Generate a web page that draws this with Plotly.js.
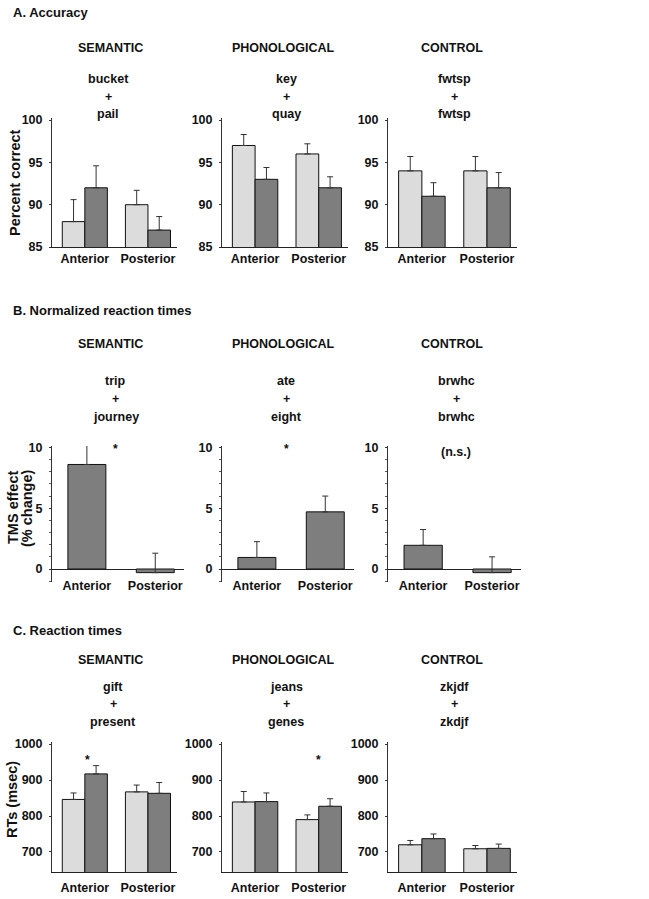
<!DOCTYPE html>
<html>
<head>
<meta charset="utf-8">
<script src="https://cdn.plot.ly/plotly-3.0.1.min.js"></script>
<style>html,body{margin:0;padding:0;background:#fff;}#chart{width:649px;height:899px;}</style>
</head>
<body>
<div id="chart"></div>
<script>
// ---------- data ----------
const regions = ['Anterior', 'Posterior'];
const columns = ['SEMANTIC', 'PHONOLOGICAL', 'CONTROL'];
const sectionTitles = ['A. Accuracy', 'B. Normalized reaction times', 'C. Reaction times'];

const accWords = [['bucket', '+', 'pail'], ['key', '+', 'quay'], ['fwtsp', '+', 'fwtsp']];
const accLight = [[88, 90], [97, 96], [94, 94]];
const accLightErr = [[2.6, 1.7], [1.3, 1.2], [1.7, 1.7]];
const accDark = [[92, 87], [93, 92], [91, 92]];
const accDarkErr = [[2.6, 1.6], [1.4, 1.3], [1.6, 1.8]];

const tmsWords = [['trip', '+', 'journey'], ['ate', '+', 'eight'], ['brwhc', '+', 'brwhc']];
const tmsVal = [[8.6, -0.3], [0.95, 4.7], [1.95, -0.3]];
const tmsErr = [[1.6, 1.6], [1.3, 1.3], [1.3, 1.3]];
const tmsMarks = ['*', '*', '(n.s.)'];

const rtWords = [['gift', '+', 'present'], ['jeans', '+', 'genes'], ['zkjdf', '+', 'zkdjf']];
const rtLight = [[846, 867], [839, 790], [720, 709]];
const rtLightErr = [[18, 19], [29, 13], [12, 9]];
const rtDark = [[917, 863], [840, 827], [737, 710]];
const rtDarkErr = [[23, 30], [24, 21], [13, 12]];
const rtStarRegion = ['Anterior', 'Posterior', null];

const yTitles = [['Percent correct'], ['TMS effect', '(% change)'], ['RTs (msec)']];

// ---------- layout geometry (pixels) ----------
const W = 649, H = 899;
const PX = x => x / W;
const PY = y => 1 - y / H;
const rowPx = [[118, 247], [446, 582], [742, 872]];
const colPxAC = [[52, 177], [222, 348], [388, 517]];
const colPxB = [[52, 184], [222, 354], [388, 521]];
const yRanges = [[85, 100.25], [-1.07, 10.12], [644.4, 1005.6]];
const xRangeAC = [-0.52, 1.46];
const xRangeB = [-0.51, 1.42];

const LIGHT = '#dcdcdc', DARK = '#7e7e7e', EDGE = '#111', ERR = '#333';
const FONT = 'Liberation Sans, Arial, sans-serif';
const TXT = '#111';

const traces = [];
const layout = {
  width: W, height: H,
  margin: {l: 0, r: 0, t: 0, b: 0},
  paper_bgcolor: '#fff', plot_bgcolor: 'rgba(0,0,0,0)',
  showlegend: false,
  font: {family: FONT, size: 12.5, color: TXT, weight: 'bold'},
  annotations: []
};

function errObj(arr) {
  return {type: 'data', symmetric: false, array: arr, arrayminus: arr.map(() => 0),
          color: ERR, thickness: 1, width: 3};
}

function addText(text, x, y, opts) {
  layout.annotations.push(Object.assign({
    text: text, x: PX(x), y: PY(y), xref: 'paper', yref: 'paper',
    showarrow: false, xanchor: 'center', yanchor: 'middle',
    font: {family: FONT, size: 12.5, color: TXT, weight: 'bold'}
  }, opts || {}));
}

const headY = [48, 344, 660];
const headX = [110, 283, 452];
const wordX = [[108, 286, 454], [116, 286, 456], [113, 286, 454]];
const wordY = [[79, 97, 114], [381, 399, 417], [687, 704, 722]];
const secY = [13, 311, 630];
const allWords = [accWords, tmsWords, rtWords];

for (let r = 0; r < 3; r++) {
  addText(sectionTitles[r], 11, secY[r], {xanchor: 'left', font: {family: FONT, size: 13, color: TXT, weight: 'bold'}});
  for (let c = 0; c < 3; c++) {
    const k = r * 3 + c + 1;
    const xa = 'x' + (k === 1 ? '' : k), ya = 'y' + (k === 1 ? '' : k);
    const xName = 'xaxis' + (k === 1 ? '' : k), yName = 'yaxis' + (k === 1 ? '' : k);
    const cp = (r === 1 ? colPxB : colPxAC)[c];
    const rp = rowPx[r];
    const yr = yRanges[r];

    addText(columns[c], headX[c], headY[r]);
    allWords[r][c].forEach((w, i) => addText(w, wordX[r][c], wordY[r][i]));

    if (r === 1) {
      traces.push({type: 'bar', x: regions, y: tmsVal[c], xaxis: xa, yaxis: ya,
        width: 0.555, offset: -0.2775,
        marker: {color: DARK, line: {color: EDGE, width: 1}},
        error_y: errObj(tmsErr[c]), hoverinfo: 'skip'});
      layout.annotations.push({text: tmsMarks[c], xref: xa, yref: ya,
        x: c === 2 ? 0.48 : 0.42 + 0.01 * c, y: c === 2 ? 9.6 : 9.9,
        showarrow: false, xanchor: 'center', yanchor: 'middle',
        font: {family: FONT, size: c === 2 ? 12.5 : 12, color: TXT, weight: 'bold'}});
    } else {
      const L = r === 0 ? accLight : rtLight, LE = r === 0 ? accLightErr : rtLightErr;
      const D = r === 0 ? accDark : rtDark, DE = r === 0 ? accDarkErr : rtDarkErr;
      traces.push({type: 'bar', x: regions, y: L[c], xaxis: xa, yaxis: ya,
        width: 0.357, offset: -0.357,
        marker: {color: LIGHT, line: {color: EDGE, width: 1}},
        error_y: errObj(LE[c]), hoverinfo: 'skip'});
      traces.push({type: 'bar', x: regions, y: D[c], xaxis: xa, yaxis: ya,
        width: 0.357, offset: 0,
        marker: {color: DARK, line: {color: EDGE, width: 1}},
        error_y: errObj(DE[c]), hoverinfo: 'skip'});
      if (r === 2 && rtStarRegion[c]) {
        layout.annotations.push({text: '*', xref: xa, yref: ya,
          x: rtStarRegion[c] === 'Anterior' ? 0.05 : 1.0, y: 955,
          showarrow: false, xanchor: 'center', yanchor: 'middle',
          font: {family: FONT, size: 12, color: TXT, weight: 'bold'}});
      }
    }

    const xRange = r === 1 ? xRangeB : xRangeAC;
    const xaxis = {
      domain: [PX(cp[0]), PX(cp[1])], range: xRange, type: 'category',
      showgrid: false, zeroline: false, ticks: '', fixedrange: true,
      showline: r !== 1, linecolor: '#222', linewidth: 1,
      tickfont: {family: FONT, size: 12.5, color: TXT, weight: 'bold'}
    };
    if (r === 1) {
      xaxis.anchor = 'free';
      const frac = (0 - yr[0]) / (yr[1] - yr[0]);
      xaxis.position = PY(rp[1]) + frac * (PY(rp[0]) - PY(rp[1]));
      xaxis.ticklabelstandoff = 8;
    } else {
      xaxis.anchor = ya;
      xaxis.ticklabelstandoff = r === 2 ? 4 : 0;
    }
    layout[xName] = xaxis;
    layout[yName] = {
      domain: [PY(rp[1]), PY(rp[0])], range: yr, anchor: xa,
      showgrid: false, showline: true, linecolor: '#333', linewidth: 1,
      ticks: 'outside', ticklen: 2, tickcolor: '#333', tickwidth: 1,
      dtick: r === 0 ? 5 : (r === 1 ? 5 : 100), tick0: 0,
      zeroline: r === 1, zerolinecolor: '#222', zerolinewidth: 1,
      ticklabelstandoff: 4, fixedrange: true,
      tickfont: {family: FONT, size: 12.5, color: TXT, weight: 'bold'},
      minor: r === 1 ? {dtick: 1, ticks: 'outside', ticklen: 2, tickcolor: '#555'} : undefined
    };
  }
}

// y-axis titles (rotated)
addText(yTitles[0][0], 15, 183, {textangle: -90, font: {family: FONT, size: 14.5, color: TXT, weight: 'bold'}});
addText(yTitles[1][0], 13, 508, {textangle: -90, font: {family: FONT, size: 14.5, color: TXT, weight: 'bold'}});
addText(yTitles[1][1], 27, 508, {textangle: -90, font: {family: FONT, size: 14.5, color: TXT, weight: 'bold'}});
addText(yTitles[2][0], 12, 800, {textangle: -90, font: {family: FONT, size: 14.5, color: TXT, weight: 'bold'}});

Plotly.newPlot('chart', traces, layout, {staticPlot: true, displayModeBar: false});
</script>
</body>
</html>
